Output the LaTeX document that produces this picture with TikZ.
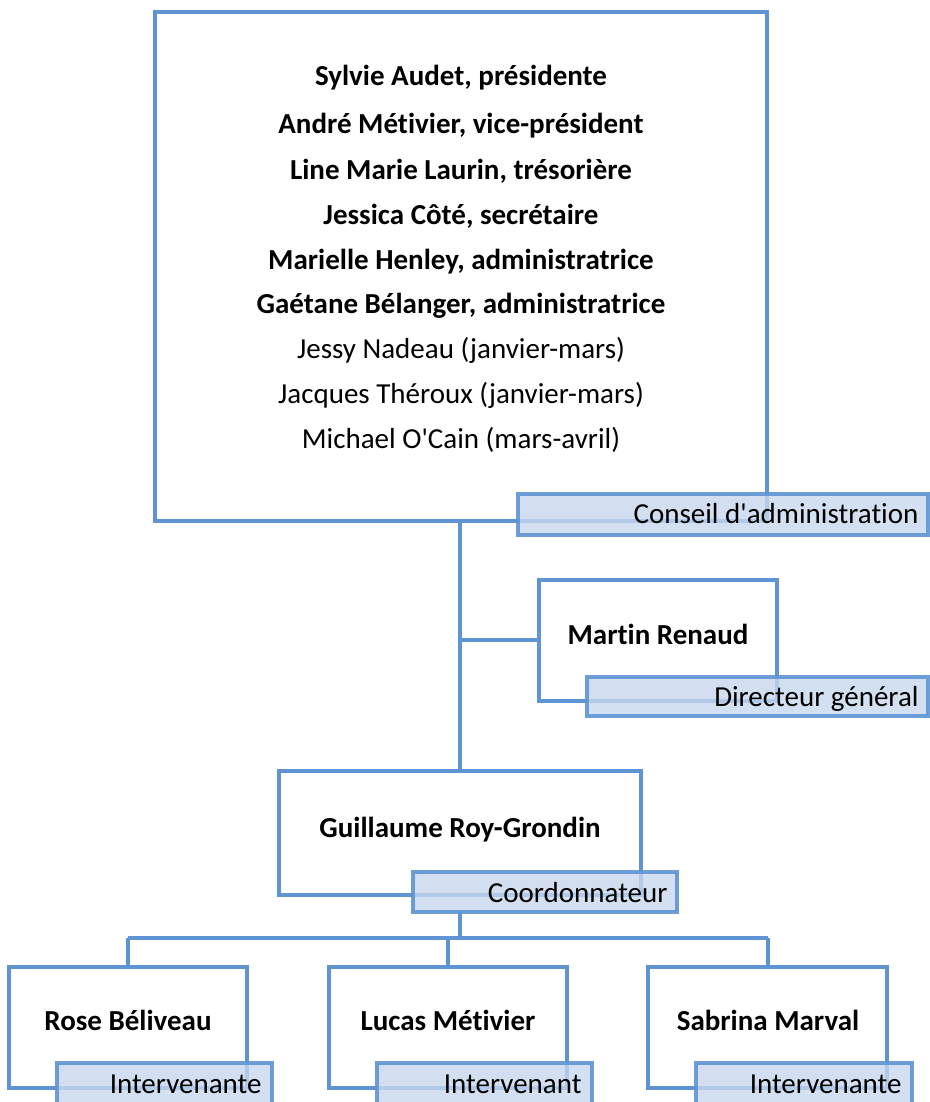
\documentclass[tikz,border=0pt]{standalone}
\usepackage{fontspec}
\setmainfont{Carlito}[Ligatures={TeXOff,CommonOff}]
\definecolor{bord}{RGB}{94,148,212}
\definecolor{lab}{RGB}{200,216,237}
\begin{document}
\begin{tikzpicture}[x=1pt,y=-1pt,
  box/.style={draw=bord,line width=3.2pt,fill=white},
  labbox/.style={draw=bord,line width=3.2pt,fill=lab,fill opacity=0.8,draw opacity=0.9},
  conn/.style={draw=bord,line width=3.2pt},
  nm/.style={font=\fontsize{29}{34}\selectfont\bfseries,anchor=base},
  pl/.style={font=\fontsize{29}{34}\selectfont,anchor=base},
  rl/.style={font=\fontsize{29}{34}\selectfont,anchor=base east},
  ]
\useasboundingbox (0,0) rectangle (929,1102);
% connectors (behind)
\coordinate (j1) at (460,640);
\coordinate (j2) at (460,938);
\coordinate (jl) at (128,938);
\coordinate (jm) at (448,938);
\coordinate (jr) at (768,938);
\draw[conn] (460,521) -- (460,771);
\draw[conn] (j1) -- (539,640);
\draw[conn] (460,912) -- (j2);
\draw[conn] (jl) -- (jr);
\draw[conn] (jl) -- (128,967);
\draw[conn] (jm) -- (448,967);
\draw[conn] (jr) -- (768,967);
% boxes
\path[box] (155,12) rectangle (767,521);
\path[box] (539,580) rectangle (777,701);
\path[box] (279,771) rectangle (641,895);
\path[box] (9,967) rectangle (247,1088);
\path[box] (329,967) rectangle (567,1088);
\path[box] (648,967) rectangle (887,1088);
% labels
\path[labbox] (518,494) rectangle (928,535);
\path[labbox] (587,677) rectangle (928,716);
\path[labbox] (413,872) rectangle (677,912);
\path[labbox] (57,1063) rectangle (272,1106);
\path[labbox] (377,1063) rectangle (592,1106);
\path[labbox] (696,1063) rectangle (912,1106);
% texts
\node[nm] (t1) at (461,86) {Sylvie Audet, présidente};
\node[nm] (t2) at (461,134) {André Métivier, vice-président};
\node[nm] (t3) at (461,179) {Line Marie Laurin, trésorière};
\node[nm] (t4) at (461,224) {Jessica Côté, secrétaire};
\node[nm] (t5) at (461,269) {Marielle Henley, administratrice};
\node[nm] (t6) at (461,313) {Gaétane Bélanger, administratrice};
\node[pl] (t7) at (461,358) {Jessy Nadeau (janvier-mars)};
\node[pl] (t8) at (461,403) {Jacques Théroux (janvier-mars)};
\node[pl] (t9) at (461,448) {Michael O'Cain (mars-avril)};
\node[rl] (l1) at (922,523) {Conseil d'administration};
\node[nm] (mr) at (658,644) {Martin Renaud};
\node[rl] (l2) at (922,706) {Directeur général};
\node[nm] (gr) at (460,837) {Guillaume Roy-Grondin};
\node[rl] (l3) at (671,902) {Coordonnateur};
\node[nm] (rb) at (128,1030) {Rose Béliveau};
\node[nm] (lm) at (448,1030) {Lucas Métivier};
\node[nm] (sm) at (768,1030) {Sabrina Marval};
\node[rl] (l4) at (265,1093) {Intervenante};
\node[rl] (l5) at (585,1093) {Intervenant};
\node[rl] (l6) at (905,1093) {Intervenante};
\end{tikzpicture}
\end{document}
